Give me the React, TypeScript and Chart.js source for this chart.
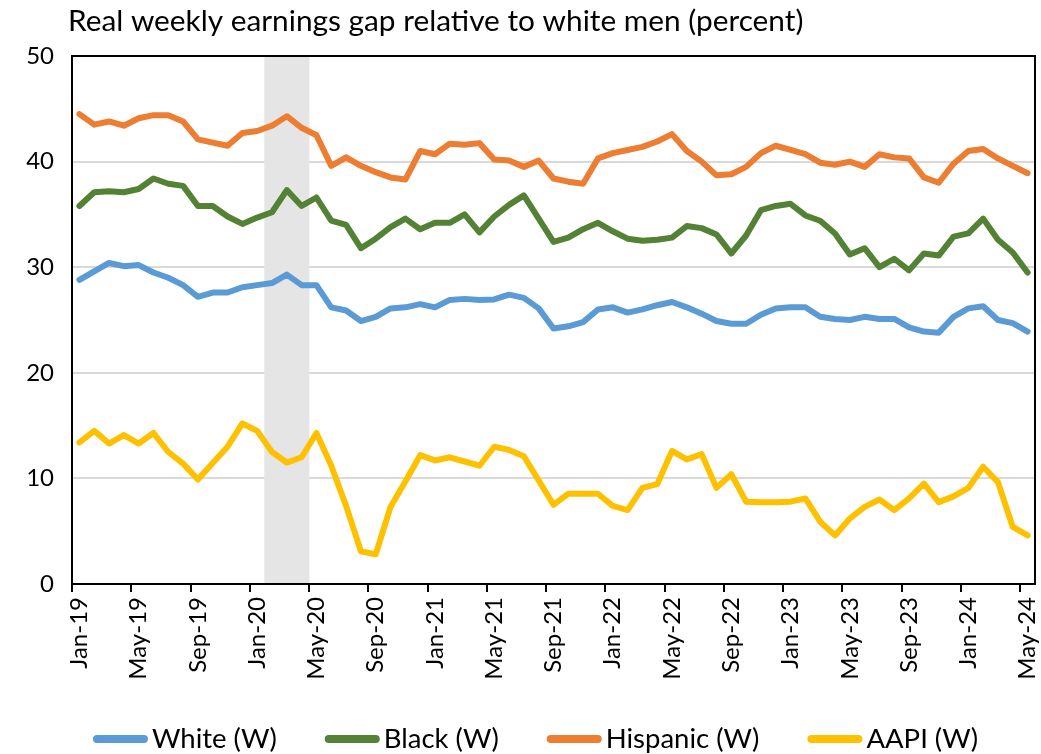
import React, { useEffect, useRef } from "react";
import { Chart, registerables } from "chart.js";

Chart.register(...registerables);

const months: string[] = [
  "Jan-19","Feb-19","Mar-19","Apr-19","May-19","Jun-19","Jul-19","Aug-19","Sep-19","Oct-19","Nov-19","Dec-19",
  "Jan-20","Feb-20","Mar-20","Apr-20","May-20","Jun-20","Jul-20","Aug-20","Sep-20","Oct-20","Nov-20","Dec-20",
  "Jan-21","Feb-21","Mar-21","Apr-21","May-21","Jun-21","Jul-21","Aug-21","Sep-21","Oct-21","Nov-21","Dec-21",
  "Jan-22","Feb-22","Mar-22","Apr-22","May-22","Jun-22","Jul-22","Aug-22","Sep-22","Oct-22","Nov-22","Dec-22",
  "Jan-23","Feb-23","Mar-23","Apr-23","May-23","Jun-23","Jul-23","Aug-23","Sep-23","Oct-23","Nov-23","Dec-23",
  "Jan-24","Feb-24","Mar-24","Apr-24","May-24",
];

const white: number[] = [
  28.8, 29.6, 30.4, 30.1, 30.2, 29.5, 29.0, 28.3, 27.2, 27.6, 27.6, 28.1, 28.3,
  28.5, 29.3, 28.3, 28.3, 26.2, 25.9, 24.9, 25.3, 26.1, 26.2, 26.5, 26.2, 26.9, 27.0,
  26.9, 26.95, 27.4, 27.1, 26.1, 24.2, 24.4, 24.8, 26.0, 26.2, 25.7, 26.0, 26.4,
  26.7, 26.2, 25.6, 24.9, 24.65, 24.65, 25.5, 26.1, 26.2, 26.2, 25.3, 25.1, 25.0,
  25.3, 25.1, 25.1, 24.3, 23.9, 23.8, 25.3, 26.1, 26.3, 25.0, 24.7, 23.9,
];

const black: number[] = [
  35.8, 37.1, 37.2, 37.1, 37.4, 38.4, 37.9, 37.7, 35.8, 35.8, 34.8, 34.1, 34.7,
  35.2, 37.3, 35.8, 36.6, 34.4, 34.0, 31.8, 32.7, 33.8, 34.6, 33.6, 34.2, 34.2, 35.0,
  33.3, 34.8, 35.9, 36.8, 34.6, 32.4, 32.8, 33.6, 34.2, 33.4, 32.7, 32.5, 32.6,
  32.8, 33.9, 33.7, 33.1, 31.3, 33.0, 35.4, 35.8, 36.0, 34.9, 34.4, 33.2, 31.2,
  31.8, 30.0, 30.8, 29.7, 31.3, 31.1, 32.9, 33.2, 34.6, 32.6, 31.4, 29.5,
];

const hispanic: number[] = [
  44.5, 43.5, 43.8, 43.4, 44.1, 44.4, 44.4, 43.8, 42.1, 41.8, 41.5, 42.7, 42.9,
  43.4, 44.3, 43.2, 42.5, 39.6, 40.4, 39.6, 39.0, 38.5, 38.3, 41.0, 40.7, 41.7, 41.6,
  41.75, 40.2, 40.1, 39.5, 40.1, 38.4, 38.1, 37.9, 40.3, 40.8, 41.1, 41.4, 41.9,
  42.6, 41.0, 40.0, 38.7, 38.8, 39.5, 40.8, 41.5, 41.1, 40.7, 39.9, 39.7, 40.0,
  39.5, 40.7, 40.4, 40.3, 38.5, 38.0, 39.8, 41.0, 41.2, 40.3, 39.6, 38.9,
];

const aapi: number[] = [
  13.4, 14.5, 13.3, 14.1, 13.3, 14.3, 12.5, 11.4, 9.9, 11.45, 13.0, 15.2, 14.5,
  12.5, 11.5, 12.0, 14.3, 11.2, 7.4, 3.1, 2.8, 7.3, 9.7, 12.2, 11.7, 12.0, 11.6,
  11.2, 13.0, 12.7, 12.1, 9.8, 7.5, 8.55, 8.55, 8.55, 7.4, 7.0, 9.1, 9.45,
  12.6, 11.8, 12.3, 9.1, 10.4, 7.8, 7.75, 7.75, 7.8, 8.1, 5.9, 4.6, 6.2,
  7.3, 8.0, 7.0, 8.1, 9.5, 7.75, 8.3, 9.1, 11.1, 9.65, 5.4, 4.6,
];

// Recession shading (Feb-20 .. Apr-20), drawn as full-height bars
const recessionMonths: string[] = ["Feb-20", "Mar-20", "Apr-20"];
const recessionTop = 50;

const yTicks: number[] = [0, 10, 20, 30, 40, 50];

const titleText = "Real weekly earnings gap relative to white men (percent)";

const FONT = "Lato, 'Open Sans', sans-serif";

const titlePlugin = {
  id: "leftTitle",
  afterDraw(chart: any) {
    const ctx = chart.ctx;
    ctx.save();
    ctx.font = `29.8px ${FONT}`;
    ctx.fillStyle = "#000";
    ctx.textBaseline = "middle";
    ctx.textAlign = "left";
    ctx.fillText(titleText, chart.chartArea.left - 4, 21);
    ctx.restore();
  },
};

const borderPlugin = {
  id: "plotBorder",
  afterDatasetsDraw(chart: any) {
    const { ctx, chartArea } = chart;
    ctx.save();
    ctx.strokeStyle = "#000";
    ctx.lineWidth = 2;
    ctx.strokeRect(chartArea.left, chartArea.top, chartArea.right - chartArea.left, chartArea.bottom - chartArea.top);
    ctx.restore();
  },
};

const legendPlugin = {
  id: "customLegend",
  afterDraw(chart: any) {
    const ctx = chart.ctx;
    const items = chart.data.datasets.filter((d: any) => d.type === "line");
    ctx.save();
    ctx.font = `27.5px ${FONT}`;
    const markerLen = 47;
    const cap = 4;
    const gapText = 4;
    const itemGap = 48;
    const widths = items.map((d: any) => cap * 2 + markerLen + gapText + ctx.measureText(d.label).width);
    const total = widths.reduce((a: number, b: number) => a + b, 0) + itemGap * (items.length - 1);
    let x = chart.width / 2 + 15 - total / 2;
    const y = 739;
    items.forEach((d: any, i: number) => {
      ctx.strokeStyle = d.borderColor;
      ctx.lineWidth = 8;
      ctx.lineCap = "round";
      ctx.beginPath();
      ctx.moveTo(x + cap, y);
      ctx.lineTo(x + cap + markerLen, y);
      ctx.stroke();
      ctx.fillStyle = "#000";
      ctx.textBaseline = "middle";
      ctx.textAlign = "left";
      ctx.fillText(d.label, x + cap * 2 + markerLen + gapText, y);
      x += widths[i] + itemGap;
    });
    ctx.restore();
  },
};

function lineDs(label: string, data: number[], color: string) {
  return {
    type: "line" as const,
    label,
    data,
    borderColor: color,
    backgroundColor: color,
    borderWidth: 6,
    pointRadius: 0,
    tension: 0,
    borderJoinStyle: "round" as const,
    borderCapStyle: "round" as const,
    order: 1,
  };
}

export default function App() {
  const canvasRef = useRef<HTMLCanvasElement | null>(null);

  useEffect(() => {
    if (!canvasRef.current) return;
    const recessionData = months.map((m) => (recessionMonths.includes(m) ? recessionTop : null));
    const chart = new Chart(canvasRef.current, {
      type: "line",
      data: {
        labels: months,
        datasets: [
          {
            type: "bar" as const,
            label: "Recession",
            data: recessionData as any,
            backgroundColor: "#E5E5E5",
            borderWidth: 0,
            categoryPercentage: 1,
            barPercentage: 1,
            order: 10,
          } as any,
          lineDs("White (W)", white, "#5B9BD5"),
          lineDs("Black (W)", black, "#548235"),
          lineDs("Hispanic (W)", hispanic, "#ED7D31"),
          lineDs("AAPI (W)", aapi, "#FFC000"),
        ],
      },
      options: {
        animation: false,
        responsive: true,
        maintainAspectRatio: false,
        layout: { padding: { top: 56, right: 6, bottom: 70, left: 0 } },
        plugins: {
          legend: { display: false },
          title: { display: false },
          tooltip: { enabled: false },
        },
        scales: {
          x: {
            type: "category",
            offset: true,
            grid: {
              offset: true,
              display: true,
              drawOnChartArea: false,
              drawTicks: true,
              tickLength: 8,
              lineWidth: 2,
              color: (c: any) => (typeof c.index === "number" && c.index % 4 === 0 && c.index < months.length ? "#000" : "rgba(0,0,0,0)"),
            },
            border: { display: true, color: "#000", width: 2 },
            ticks: {
              autoSkip: false,
              maxRotation: 90,
              minRotation: 90,
              padding: 5,
              color: "#000",
              font: { family: FONT, size: 24 },
              callback: (_v: any, i: number) => (i % 4 === 0 ? months[i] : ""),
            },
            afterFit: (scale: any) => {
              scale.height = 100;
              scale.paddingLeft = 0;
              scale.paddingRight = 0;
            },
          },
          y: {
            min: 0,
            max: 50,
            afterBuildTicks: (scale: any) => {
              scale.ticks = yTicks.map((v) => ({ value: v }));
            },
            grid: {
              color: "#D9D9D9",
              lineWidth: 2,
              drawTicks: false,
            },
            border: { display: true, color: "#000", width: 2 },
            ticks: {
              padding: 18,
              color: "#000",
              font: { family: FONT, size: 24 },
            },
            afterFit: (scale: any) => {
              scale.width = 72;
            },
          },
        },
      },
      plugins: [titlePlugin, borderPlugin, legendPlugin],
    });
    return () => chart.destroy();
  }, []);

  return (
    <div style={{ position: "fixed", left: 0, top: 0, width: 1041, height: 754, background: "#fff" }}>
      <canvas ref={canvasRef} />
    </div>
  );
}
